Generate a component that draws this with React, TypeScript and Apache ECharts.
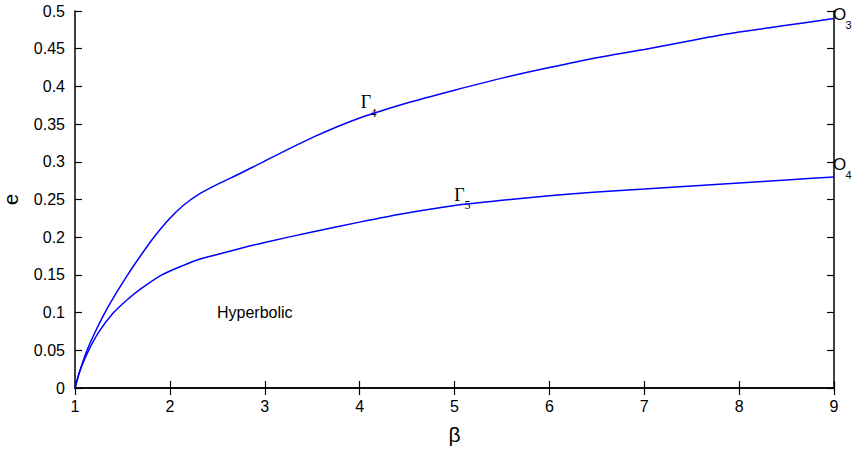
import React, { useEffect, useRef } from "react";
import * as echarts from "echarts";

// β samples and eccentricity values for the two boundary curves
const beta4 = [1, 1.03, 1.07, 1.127, 1.2, 1.32, 1.45, 1.565, 1.7, 1.82, 2.0, 2.15, 2.32, 2.5, 2.74, 3.0, 3.5, 4, 4.5, 5, 5.5, 6, 6.5, 7, 7.5, 8, 8.5, 9];
const gamma4 = [0, 0.014, 0.03, 0.05, 0.071, 0.101, 0.129, 0.152, 0.177, 0.198, 0.225, 0.243, 0.258, 0.27, 0.2845, 0.301, 0.332, 0.358, 0.378, 0.395, 0.411, 0.425, 0.438, 0.449, 0.461, 0.472, 0.481, 0.49];

const beta5 = [1, 1.03, 1.07, 1.144, 1.25, 1.4, 1.55, 1.7, 1.915, 2.13, 2.32, 2.5, 2.74, 3.0, 3.5, 4, 4.5, 5, 5.5, 6, 6.5, 7, 7.5, 8, 8.5, 9];
const gamma5 = [0, 0.014, 0.029, 0.05, 0.074, 0.099, 0.117, 0.132, 0.15, 0.162, 0.171, 0.177, 0.185, 0.193, 0.207, 0.22, 0.232, 0.242, 0.249, 0.255, 0.26, 0.264, 0.268, 0.272, 0.276, 0.28];

const xTicks = { min: 1, max: 9, step: 1 };
const yTicks = { min: 0, max: 0.5, step: 0.05 };

const SANS = "'Liberation Sans', Arial, Helvetica, sans-serif";
const SERIF = "'Liberation Serif', 'Times New Roman', serif";

function pairs(xs: number[], ys: number[]) {
  return xs.map((x, i) => [x, ys[i]]);
}

function label(text: string, x: number, y: number, size: number, family: string, align = "center") {
  return {
    type: "text",
    x,
    y,
    silent: true,
    style: {
      text,
      fill: "#000",
      fontSize: size,
      fontFamily: family,
      align,
      verticalAlign: "middle",
    },
  };
}

export default function App() {
  const ref = useRef<HTMLDivElement>(null);

  useEffect(() => {
    if (!ref.current) return;
    const chart = echarts.init(ref.current, undefined, { renderer: "svg" });

    const axisLine = { show: true, lineStyle: { color: "#000", width: 1.5 } };
    const axisTick = { show: true, inside: true, length: 7, lineStyle: { color: "#000", width: 1.2 } };
    const fmt = (v: number) => String(+v.toFixed(2));

    chart.setOption({
      animation: false,
      backgroundColor: "#fff",
      grid: { left: 75, right: 20, top: 11, bottom: 62, containLabel: false, outerBoundsMode: "none" },
      xAxis: [
        {
          type: "value",
          min: xTicks.min,
          max: xTicks.max,
          interval: xTicks.step,
          position: "bottom",
          name: "β",
          nameLocation: "middle",
          nameGap: 36,
          nameTextStyle: { color: "#000", fontSize: 21, fontFamily: SANS },
          axisLine,
          axisTick,
          splitLine: { show: false },
          axisLabel: { color: "#000", fontSize: 16, fontFamily: SANS, margin: 10, formatter: fmt },
        },
        {
          type: "value",
          min: xTicks.min,
          max: xTicks.max,
          interval: xTicks.step,
          position: "top",
          axisLine,
          axisTick,
          splitLine: { show: false },
          axisLabel: { show: false },
        },
      ],
      yAxis: [
        {
          type: "value",
          min: yTicks.min,
          max: yTicks.max,
          interval: yTicks.step,
          position: "left",
          name: "e",
          nameLocation: "middle",
          nameRotate: 90,
          nameGap: 54,
          nameTextStyle: { color: "#000", fontSize: 20, fontFamily: SANS },
          axisLine,
          axisTick,
          splitLine: { show: false },
          axisLabel: { color: "#000", fontSize: 16, fontFamily: SANS, margin: 10, formatter: fmt },
        },
        {
          type: "value",
          min: yTicks.min,
          max: yTicks.max,
          interval: yTicks.step,
          position: "right",
          axisLine,
          axisTick,
          splitLine: { show: false },
          axisLabel: { show: false },
        },
      ],
      series: [
        {
          name: "Γ4",
          type: "line",
          data: pairs(beta4, gamma4),
          showSymbol: false,
          smooth: 0.25,
          lineStyle: { color: "#0000ff", width: 1.5 },
        },
        {
          name: "Γ5",
          type: "line",
          data: pairs(beta5, gamma5),
          showSymbol: false,
          smooth: 0.25,
          lineStyle: { color: "#0000ff", width: 1.5 },
        },
      ],
      graphic: [
        label("Γ", 366, 101.5, 18, SERIF),
        label("4", 373.5, 113, 12, SERIF),
        label("Γ", 459.5, 195, 18, SERIF),
        label("5", 467.5, 205, 12, SERIF),
        label("O", 839.5, 14, 17, SANS),
        label("3", 848.5, 25, 11, SANS),
        label("O", 839.5, 164, 17, SANS),
        label("4", 848.5, 175, 11, SANS),
        label("Hyperbolic", 217, 312.5, 16, SANS, "left"),
      ],
    });

    return () => chart.dispose();
  }, []);

  return (
    <div
      ref={ref}
      style={{ position: "fixed", left: 0, top: 0, width: 854, height: 450, background: "#fff" }}
    />
  );
}
